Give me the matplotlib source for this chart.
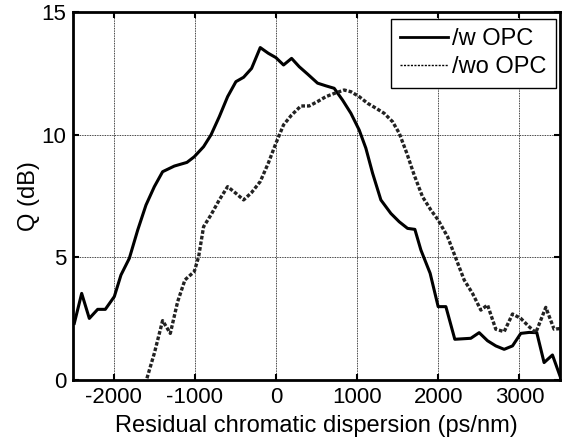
import matplotlib
matplotlib.use("Agg")
import matplotlib.pyplot as plt
from matplotlib.lines import Line2D

plt.rcParams['font.family'] = ['Liberation Sans', 'DejaVu Sans']
plt.rcParams['axes.unicode_minus'] = False

# /w OPC
x_w = [-2484, -2393, -2299, -2196, -2102, -1991, -1909, -1806, -1703, -1601, -1498, -1396,
       -1252, -1096, -1006, -891, -800, -698, -595, -493, -398, -300, -193, -95, 0, 94,
       193, 287, 390, 513, 616, 718, 821, 924, 1026, 1108, 1191, 1293, 1416, 1519, 1622,
       1712, 1786, 1900, 1999, 2094, 2204, 2401, 2504, 2607, 2709, 2812, 2915, 3017,
       3120, 3214, 3304, 3407, 3510]
q_w = [2.31, 3.53, 2.51, 2.88, 2.88, 3.40, 4.28, 4.96, 6.11, 7.13, 7.88, 8.49,
       8.72, 8.87, 9.10, 9.51, 9.99, 10.73, 11.55, 12.16, 12.34, 12.70, 13.55, 13.32, 13.14, 12.84,
       13.11, 12.77, 12.47, 12.10, 11.99, 11.89, 11.41, 10.87, 10.19, 9.45, 8.43, 7.34, 6.79, 6.45, 6.18,
       6.14, 5.30, 4.35, 2.99, 2.99, 1.66, 1.70, 1.93, 1.60, 1.39, 1.25, 1.39, 1.90,
       1.94, 1.93, 0.71, 1.02, 0.07]

# /wo OPC
x_wo = [-1589, -1498, -1396, -1301, -1211, -1121, -1006, -952, -891, -800, -698, -595,
        -493, -398, -300, -193, -95, 0, 94, 193, 308, 410, 513, 616, 718, 841, 924,
        1026, 1129, 1232, 1334, 1437, 1519, 1613, 1703, 1806, 1909, 1999, 2115, 2217,
        2319, 2422, 2525, 2607, 2709, 2812, 2915, 3017, 3120, 3202, 3325, 3427, 3510]
q_wo = [0.07, 1.09, 2.42, 1.90, 3.19, 4.08, 4.42, 5.03, 6.25, 6.73, 7.34, 7.88,
        7.61, 7.34, 7.64, 8.09, 8.83, 9.65, 10.40, 10.80, 11.17, 11.17, 11.35, 11.55, 11.68, 11.82, 11.75,
        11.55, 11.28, 11.08, 10.87, 10.53, 10.06, 9.24, 8.36, 7.47, 6.93, 6.52, 5.84, 4.96,
        4.08, 3.53, 2.85, 3.06, 2.07, 1.97, 2.69, 2.51, 2.17, 1.93, 2.96, 2.07, 2.10]

x_ticks = [-2000, -1000, 0, 1000, 2000, 3000]
y_ticks = [0, 5, 10, 15]
labels = ['/w OPC', '/wo OPC']

fig = plt.figure(figsize=(5.67, 4.42), dpi=100)
ax = fig.add_axes([73/567, 62/442, 487/567, 368/442])

ax.plot(x_w, q_w, color='black', lw=2.2, solid_joinstyle='round')
ax.plot(x_wo, q_wo, color='#222222', lw=2.4, linestyle=(0, (1.1, 0.6)))

ax.set_xlim(-2500, 3500)
ax.set_ylim(0, 15)
ax.set_xticks(x_ticks)
ax.set_yticks(y_ticks)
ax.grid(True, color='black', linestyle=(0, (1, 1)), linewidth=0.6)
ax.tick_params(direction='in', top=True, right=True, length=4, width=1.5, labelsize=16, pad=5)
for s in ax.spines.values():
    s.set_linewidth(2)
ax.set_xlabel('Residual chromatic dispersion (ps/nm)', fontsize=17, labelpad=5)
ax.set_ylabel('Q (dB)', fontsize=17, labelpad=1)

handles = [Line2D([0], [0], color='black', lw=2.0),
           Line2D([0], [0], color='black', lw=1.0, linestyle=(0, (1.5, 1)))]
leg = ax.legend(handles, labels, loc='upper right', bbox_to_anchor=(0.992, 0.981),
                fontsize=17, fancybox=False, framealpha=1, edgecolor='black',
                handlelength=2.0, handletextpad=0.2, borderpad=0.4, labelspacing=0.25,
                borderaxespad=0)
leg.get_frame().set_linewidth(1.0)

fig.savefig('out.png', dpi=100)
